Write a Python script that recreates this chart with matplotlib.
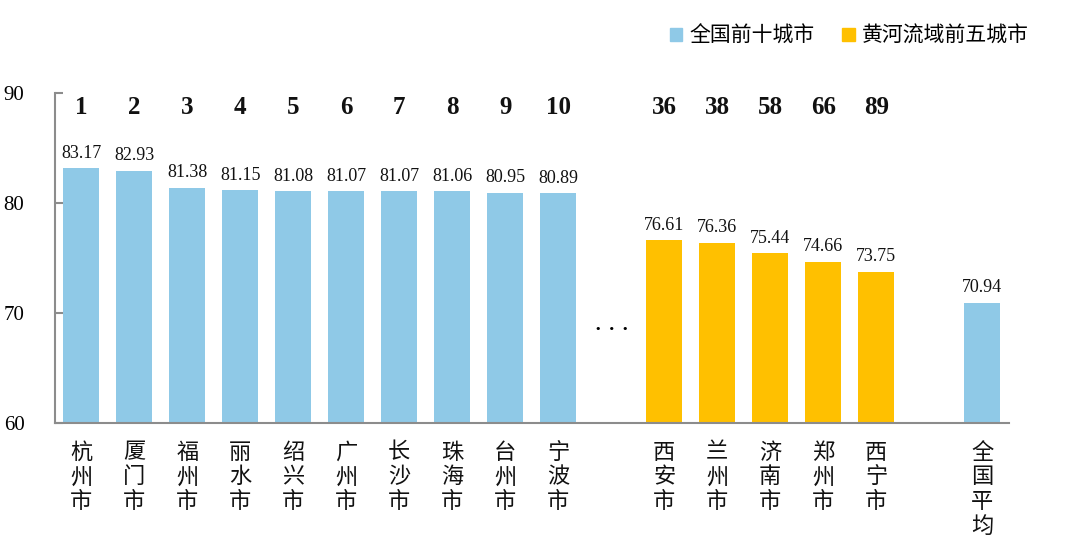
import matplotlib
matplotlib.use('Agg')
import matplotlib.pyplot as plt
from matplotlib.patches import Patch

# data
cities = ['杭州市', '厦门市', '福州市', '丽水市', '绍兴市', '广州市', '长沙市', '珠海市', '台州市', '宁波市',
          '西安市', '兰州市', '济南市', '郑州市', '西宁市', '全国平均']
scores = [83.17, 82.93, 81.38, 81.15, 81.08, 81.07, 81.07, 81.06, 80.95, 80.89,
          76.61, 76.36, 75.44, 74.66, 73.75, 70.94]
ranks = ['1', '2', '3', '4', '5', '6', '7', '8', '9', '10', '36', '38', '58', '66', '89', '']
groups = ['top'] * 10 + ['yellow'] * 5 + ['top']
legend_labels = ['全国前十城市', '黄河流域前五城市']

# slot positions: gap after top 10 (for the dots) and before national average
slots = list(range(10)) + list(range(11, 16)) + [17]

blue = '#8FC9E7'
gold = '#FFC000'
colors = {'top': blue, 'yellow': gold}
cjk = ['Noto Sans CJK SC', 'DejaVu Sans']
serif = 'Liberation Serif'

fig = plt.figure(figsize=(10.8, 5.47), dpi=100)
ax = fig.add_axes([0.0509, 0.2267, 0.883, 0.6033])

ax.bar(slots, [s - 60 for s in scores], bottom=60, width=0.68,
       color=[colors[g] for g in groups], zorder=2)

for x, s, r in zip(slots, scores, ranks):
    ax.text(x, s + 0.6, f'{s:.2f}', ha='center', va='bottom', fontsize=13,
            family=serif, color='#111111')
    if r:
        ax.text(x, 88.7, r, ha='center', va='center', fontsize=18,
                family=serif, fontweight='bold', color='#111111')

# vertical city labels
for x, c in zip(slots, cities):
    ax.text(x, 58.4, '\n'.join(c), ha='center', va='top', fontsize=16,
            family=cjk, linespacing=1.1, color='#111111')

ax.text(10, 68.5, '•  •  •', ha='center', va='center', fontsize=8, color='black')

ax.set_xlim(-0.5, 17.5)
ax.set_ylim(60, 90)
ax.set_yticks([60, 70, 80, 90])
ax.set_yticklabels(['60', '70', '80', '90'], family=serif, fontsize=15)
ax.set_xticks([])
ax.tick_params(axis='y', direction='in', length=6, width=1.5, color='#8c8c8c', pad=22)
for sp in ['top', 'right']:
    ax.spines[sp].set_visible(False)
for sp in ['left', 'bottom']:
    ax.spines[sp].set_color('#8c8c8c')
    ax.spines[sp].set_linewidth(1.5)

handles = [Patch(color=blue, label=legend_labels[0]), Patch(color=gold, label=legend_labels[1])]
fig.legend(handles=handles, loc='center right', bbox_to_anchor=(0.97, 0.935), ncol=2,
           frameon=False, prop={'family': cjk, 'size': 15}, handlelength=0.6, handleheight=0.6,
           handletextpad=0.35, columnspacing=1.3)

fig.savefig('out.png', dpi=100)
